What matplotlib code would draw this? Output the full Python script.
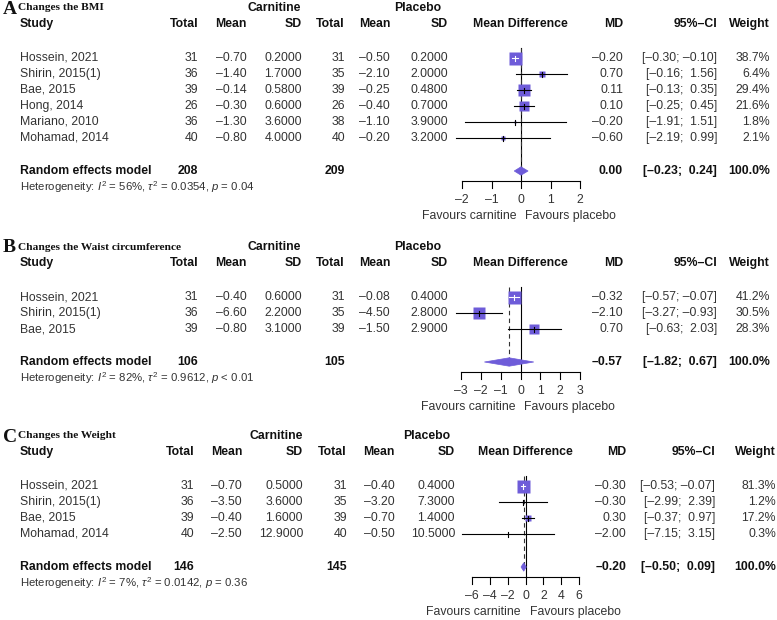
import matplotlib
matplotlib.use("Agg")
import matplotlib.pyplot as plt
from matplotlib.patches import Polygon
import numpy as np

W, H, DPI = 777, 620, 100

plt.rcParams['font.family'] = ['Liberation Sans', 'DejaVu Sans']
plt.rcParams['mathtext.fontset'] = 'custom'
plt.rcParams['mathtext.rm'] = 'Liberation Sans'
plt.rcParams['mathtext.it'] = 'Liberation Sans:italic'
plt.rcParams['mathtext.bf'] = 'Liberation Sans:bold'

# ---------------- Data ----------------
# Panel A: BMI
a_title = "Changes the BMI"
a_studies = ["Hossein, 2021", "Shirin, 2015(1)", "Bae, 2015", "Hong, 2014",
             "Mariano, 2010", "Mohamad, 2014"]
a_c_total = [31, 36, 39, 26, 36, 40]
a_c_mean = [-0.70, -1.40, -0.14, -0.30, -1.30, -0.80]
a_c_sd = [0.2000, 1.7000, 0.5800, 0.6000, 3.6000, 4.0000]
a_p_total = [31, 35, 39, 26, 38, 40]
a_p_mean = [-0.50, -2.10, -0.25, -0.40, -1.10, -0.20]
a_p_sd = [0.2000, 2.0000, 0.4800, 0.7000, 3.9000, 3.2000]
a_md = [-0.20, 0.70, 0.11, 0.10, -0.20, -0.60]
a_lo = [-0.30, -0.16, -0.13, -0.25, -1.91, -2.19]
a_hi = [-0.10, 1.56, 0.35, 0.45, 1.51, 0.99]
a_weight = [38.7, 6.4, 29.4, 21.6, 1.8, 2.1]
a_random = [0.00, -0.23, 0.24]
a_totals = [208, 209]
a_het = ["56%", "0.0354", "= 0.04"]
a_ticks = [-2, -1, 0, 1, 2]

# Panel B: Waist circumference
b_title = "Changes the Waist circumference"
b_studies = ["Hossein, 2021", "Shirin, 2015(1)", "Bae, 2015"]
b_c_total = [31, 36, 39]
b_c_mean = [-0.40, -6.60, -0.80]
b_c_sd = [0.6000, 2.2000, 3.1000]
b_p_total = [31, 35, 39]
b_p_mean = [-0.08, -4.50, -1.50]
b_p_sd = [0.4000, 2.8000, 2.9000]
b_md = [-0.32, -2.10, 0.70]
b_lo = [-0.57, -3.27, -0.63]
b_hi = [-0.07, -0.93, 2.03]
b_weight = [41.2, 30.5, 28.3]
b_random = [-0.57, -1.82, 0.67]
b_totals = [106, 105]
b_het = ["82%", "0.9612", "< 0.01"]
b_ticks = [-3, -2, -1, 0, 1, 2, 3]

# Panel C: Weight
c_title = "Changes the Weight"
c_studies = ["Hossein, 2021", "Shirin, 2015(1)", "Bae, 2015", "Mohamad, 2014"]
c_c_total = [31, 36, 39, 40]
c_c_mean = [-0.70, -3.50, -0.40, -2.50]
c_c_sd = [0.5000, 3.6000, 1.6000, 12.9000]
c_p_total = [31, 35, 39, 40]
c_p_mean = [-0.40, -3.20, -0.70, -0.50]
c_p_sd = [0.4000, 7.3000, 1.4000, 10.5000]
c_md = [-0.30, -0.30, 0.30, -2.00]
c_lo = [-0.53, -2.99, -0.37, -7.15]
c_hi = [-0.07, 2.39, 0.97, 3.15]
c_weight = [81.3, 1.2, 17.2, 0.3]
c_random = [-0.20, -0.50, 0.09]
c_totals = [146, 145]
c_het = ["7%", "0.0142", "= 0.36"]
c_ticks = [-6, -4, -2, 0, 2, 4, 6]

# ---------------- Styling / layout ----------------
PURPLE = '#6E5CD9'
TXT = '#333333'
BTXT = '#111111'
FS = 8.8
HFS = 8.2

fig = plt.figure(figsize=(W / DPI, H / DPI), dpi=DPI)
bg = fig.add_axes([0, 0, 1, 1])
bg.set_xlim(0, W)
bg.set_ylim(H, 0)
bg.axis('off')


def fmt(v, d=2):
    s = f"{v:.{d}f}"
    return s.replace('-', '\u2013')


def fci(lo, hi):
    los = fmt(lo)
    his = fmt(hi)
    if lo >= 0:
        los = ' ' + los
    if hi >= 0:
        his = '  ' + his
    else:
        his = ' ' + his
    return '[' + los + ';' + his + ']'


def panel(letter, title, studies, ct, cm, csd, pt, pm, psd, md, lo, hi, wt,
          rnd, tots, het, ticks, L):
    top = L['top']
    C = L['cols']
    # Titles
    bg.text(3, top + 1, letter, family=['Liberation Serif'], fontweight='bold',
            fontsize=14, va='center', ha='left', color=BTXT)
    bg.text(18, top, title, family=['Liberation Serif'], fontweight='bold',
            fontsize=8.2, va='center', ha='left', color=BTXT)
    bg.text(L['carn'], top, 'Carnitine', fontweight='bold', ha='center',
            va='center', fontsize=FS, color=BTXT)
    bg.text(L['plac'], top, 'Placebo', fontweight='bold', ha='center',
            va='center', fontsize=FS, color=BTXT)
    hy = top + 16
    bg.text(20, hy, 'Study', fontweight='bold', ha='left', va='center',
            fontsize=FS, color=BTXT)
    for key, lab in [('ct', 'Total'), ('cm', 'Mean'), ('csd', 'SD'),
                     ('pt', 'Total'), ('pm', 'Mean'), ('psd', 'SD'),
                     ('md', 'MD'), ('ci', '95%\u2013CI'), ('w', 'Weight')]:
        bg.text(C[key], hy, lab, fontweight='bold', ha='right', va='center',
                fontsize=FS, color=BTXT)
    bg.text(L['mdh'], hy, 'Mean Difference', fontweight='bold', ha='center',
            va='center', fontsize=FS, color=BTXT)

    n = len(studies)
    ys = [top + 50 + 16 * i for i in range(n)]
    for i, y in enumerate(ys):
        vals = [('ct', str(ct[i])), ('cm', fmt(cm[i])), ('csd', fmt(csd[i], 4)),
                ('pt', str(pt[i])), ('pm', fmt(pm[i])), ('psd', fmt(psd[i], 4)),
                ('md', fmt(md[i])), ('ci', fci(lo[i], hi[i])),
                ('w', f"{wt[i]:.1f}%")]
        bg.text(20, y, studies[i], ha='left', va='center', fontsize=FS, color=TXT)
        for key, s in vals:
            bg.text(C[key], y, s, ha='right', va='center', fontsize=FS, color=TXT)

    ry = ys[-1] + 33
    bg.text(20, ry, 'Random effects model', fontweight='bold', ha='left',
            va='center', fontsize=FS, color=BTXT)
    for key, s in [('ct', str(tots[0])), ('pt', str(tots[1])),
                   ('md', fmt(rnd[0])), ('ci', fci(rnd[1], rnd[2])),
                   ('w', '100.0%')]:
        bg.text(C[key], ry, s, fontweight='bold', ha='right', va='center',
                fontsize=FS, color=BTXT)
    hs = (r"Heterogeneity: $I^2$ = " + het[0] +
          r", $\tau^2$ = " + het[1] + r", $p$ " + het[2])
    bg.text(20, ry + 16, hs, ha='left', va='center', fontsize=HFS, color=TXT)

    # Forest plot axes
    x0, x1 = L['fx']
    fa = fig.add_axes([x0 / W, 0, (x1 - x0) / W, 1])
    fa.set_xlim(ticks[0], ticks[-1])
    fa.set_ylim(H, 0)
    fa.axis('off')
    ppu = (x1 - x0) / (ticks[-1] - ticks[0])
    ay = ry + 10
    # null line and random-effects dashed line
    fa.plot([0, 0], [ys[0] - 10, ay], color='black', lw=0.8, clip_on=False, zorder=1)
    fa.plot([rnd[0], rnd[0]], [ys[0] - 10, ry], color='#333333', lw=0.8,
            ls=(0, (4, 3)), clip_on=False, zorder=1)
    wmax = max(wt)
    for i, y in enumerate(ys):
        side = 13.0 * np.sqrt(wt[i] / wmax)
        fa.plot([md[i]], [y], marker='s', ms=side * 72 / DPI, color=PURPLE,
                mec='none', clip_on=False, zorder=3)
        inside = (hi[i] - lo[i]) * ppu < side
        lc = 'white' if inside else 'black'
        fa.plot([lo[i], hi[i]], [y, y], color=lc, lw=0.8, clip_on=False, zorder=4)
        fa.plot([md[i], md[i]], [y - 2.5, y + 2.5], color=lc, lw=0.8,
                clip_on=False, zorder=4)
    dia = Polygon([[rnd[1], ry], [rnd[0], ry - 4.2], [rnd[2], ry],
                   [rnd[0], ry + 4.2]], closed=True, facecolor=PURPLE,
                  edgecolor=PURPLE, lw=0.5, clip_on=False, zorder=3)
    fa.add_patch(dia)
    # axis
    fa.plot([ticks[0], ticks[-1]], [ay, ay], color='black', lw=0.8, clip_on=False)
    for t in ticks:
        fa.plot([t, t], [ay, ay + 7], color='black', lw=0.8, clip_on=False)
        fa.text(t, ay + 19, fmt(t, 0), ha='center', va='center', fontsize=FS,
                color=TXT, clip_on=False)
    fa.text(-5 / ppu, ay + 35, 'Favours carnitine', ha='right', va='center',
            fontsize=FS, color=TXT, clip_on=False)
    fa.text(4 / ppu, ay + 35, 'Favours placebo', ha='left', va='center',
            fontsize=FS, color=TXT, clip_on=False)


colsAB = dict(ct=198, cm=247, csd=302, pt=345, pm=390, psd=448, md=623, ci=717, w=770)
colsC = dict(ct=194, cm=242, csd=303, pt=347, pm=395, psd=455, md=626, ci=715, w=776)

LA = dict(top=8, cols=colsAB, carn=274, plac=418, mdh=520, fx=(462, 580))
LB = dict(top=247, cols=colsAB, carn=274, plac=418, mdh=520, fx=(461, 580))
LC = dict(top=436, cols=colsC, carn=276, plac=427, mdh=525, fx=(472, 579))

panel('A', a_title, a_studies, a_c_total, a_c_mean, a_c_sd, a_p_total, a_p_mean,
      a_p_sd, a_md, a_lo, a_hi, a_weight, a_random, a_totals, a_het, a_ticks, LA)
panel('B', b_title, b_studies, b_c_total, b_c_mean, b_c_sd, b_p_total, b_p_mean,
      b_p_sd, b_md, b_lo, b_hi, b_weight, b_random, b_totals, b_het, b_ticks, LB)
panel('C', c_title, c_studies, c_c_total, c_c_mean, c_c_sd, c_p_total, c_p_mean,
      c_p_sd, c_md, c_lo, c_hi, c_weight, c_random, c_totals, c_het, c_ticks, LC)

fig.savefig('out.png', dpi=DPI)
